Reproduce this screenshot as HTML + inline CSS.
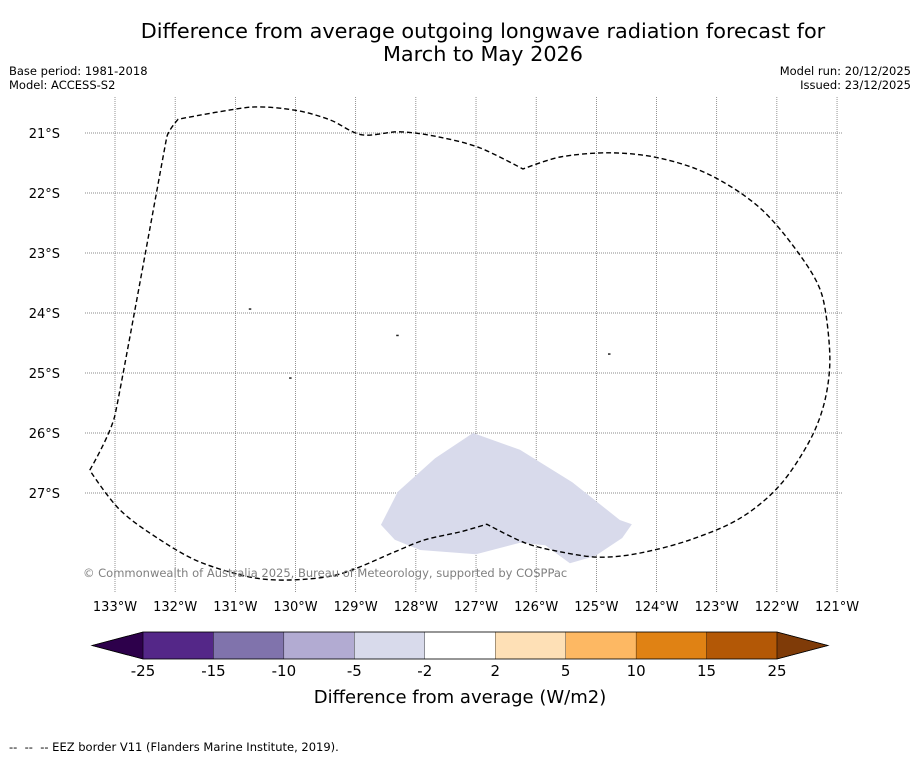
<!DOCTYPE html>
<html><head><meta charset="utf-8">
<style>
body{margin:0;background:#fff;font-family:"Liberation Sans","DejaVu Sans",sans-serif;}
svg text{font-family:"DejaVu Sans","Liberation Sans",sans-serif;}
</style></head>
<body>
<svg id="chart" width="919" height="758" viewBox="0 0 919 758" xmlns="http://www.w3.org/2000/svg">
<rect width="919" height="758" fill="#fff"/>
<text x="483" y="38" font-size="20.8" text-anchor="middle">Difference from average outgoing longwave radiation forecast for</text>
<text x="483" y="61" font-size="20.8" text-anchor="middle">March to May 2026</text>
<text x="9" y="75" font-size="11.5">Base period: 1981-2018</text>
<text x="9" y="89" font-size="11.5">Model: ACCESS-S2</text>
<text x="911" y="75" font-size="11.5" text-anchor="end">Model run: 20/12/2025</text>
<text x="911" y="89" font-size="11.5" text-anchor="end">Issued: 23/12/2025</text>
<g id="grid"></g>
<g id="marks"></g>
<text x="83" y="577" font-size="11.5" fill="#808080">© Commonwealth of Australia 2025, Bureau of Meteorology, supported by COSPPac</text>
<g id="cbar"></g>
<text x="460" y="703" font-size="18" text-anchor="middle">Difference from average (W/m2)</text>
<text x="9" y="751" font-size="11.5" style="white-space:pre">--  --  -- EEZ border V11 (Flanders Marine Institute, 2019).</text>
</svg>
<script>
const lonTicks=[-133,-132,-131,-130,-129,-128,-127,-126,-125,-124,-123,-122,-121];
const latTicks=[-21,-22,-23,-24,-25,-26,-27];
const eezLon=[-133.42,-133,-132.14,-131.95,-130.76,-130.01,-129.43,-128.90,-128.26,-127.60,-126.93,-126.22,-125.60,-124.77,-123.94,-123.11,-122.28,-121.62,-121.25,-121.12,-121.20,-121.45,-121.95,-122.61,-123.44,-124.27,-124.94,-125.60,-126.19,-126.82,-127.27,-127.85,-128.35,-129.26,-130.09,-130.76,-131.59,-132.25,-132.92,-133.42];
const eezLat=[-26.62,-25.70,-21.07,-20.77,-20.57,-20.62,-20.78,-21.03,-20.98,-21.07,-21.25,-21.60,-21.40,-21.33,-21.42,-21.70,-22.25,-23.03,-23.70,-24.70,-25.45,-26.12,-26.87,-27.42,-27.78,-28.00,-28.07,-27.98,-27.83,-27.52,-27.65,-27.78,-27.98,-28.35,-28.45,-28.40,-28.15,-27.78,-27.28,-26.62];
const patchLon=[-128.58,-128.30,-127.68,-127.05,-126.27,-125.40,-124.61,-124.41,-124.57,-125.02,-125.44,-125.85,-126.27,-127.00,-127.93,-128.35];
const patchLat=[-27.53,-26.98,-26.42,-26.00,-26.28,-26.82,-27.45,-27.52,-27.75,-28.05,-28.17,-27.87,-27.83,-28.02,-27.95,-27.78];
const islandLon=[-130.76,-130.09,-128.31,-124.79];
const islandLat=[-23.93,-25.08,-24.37,-24.68];
const cbLevels=[-25,-15,-10,-5,-2,2,5,10,15,25];
const cbColors=["#542788","#8073ac","#b2abd2","#d8daeb","#ffffff","#fee0b6","#fdb863","#e08214","#b35806"];
const cbUnder="#2d004b", cbOver="#7f3b08";

const NS="http://www.w3.org/2000/svg";
const X=lon=>115+(lon+133)*60.17;
const Y=lat=>133+(-21-lat)*60;
function mk(tag,attrs,parent){const e=document.createElementNS(NS,tag);for(const k in attrs)e.setAttribute(k,attrs[k]);parent.appendChild(e);return e;}
function tangent(pts,i){
  if(i===0||i===pts.length-1)return [0,0];
  const a=pts[i-1],b=pts[i],c=pts[i+1];
  const v1=[b[0]-a[0],b[1]-a[1]],v2=[c[0]-b[0],c[1]-b[1]];
  const l1=Math.hypot(...v1),l2=Math.hypot(...v2);
  const cos=(v1[0]*v2[0]+v1[1]*v2[1])/(l1*l2);
  if(cos<0.8)return [0,0];
  const s=Math.min(1,2*Math.min(l1,l2)/(l1+l2));
  return [(c[0]-a[0])/6*s,(c[1]-a[1])/6*s];
}
function smooth(pts){
  let d='M'+pts[0][0]+','+pts[0][1];
  for(let i=0;i<pts.length-1;i++){
    const t1=tangent(pts,i),t2=tangent(pts,i+1),p1=pts[i],p2=pts[i+1];
    d+=` C${p1[0]+t1[0]},${p1[1]+t1[1]} ${p2[0]-t2[0]},${p2[1]-t2[1]} ${p2[0]},${p2[1]}`;
  }
  return d;
}
const grid=document.getElementById('grid'), marks=document.getElementById('marks'), cbar=document.getElementById('cbar');
lonTicks.forEach(l=>{
  const ln=mk('line',{x1:X(l),x2:X(l),y1:97,y2:592,stroke:'#666','stroke-width':0.7,'stroke-dasharray':'1,1'},grid);
  
  
  const t=mk('text',{x:X(l),y:611,'font-size':13,'text-anchor':'middle'},grid);
  t.textContent=Math.abs(l)+'°W';
  
  
});
latTicks.forEach(l=>{
  const ln=mk('line',{x1:85,x2:843,y1:Y(l),y2:Y(l),stroke:'#666','stroke-width':0.7,'stroke-dasharray':'1,1'},grid);
  
  
  const t=mk('text',{x:60,y:Y(l)+5,'font-size':13,'text-anchor':'end'},grid);
  t.textContent=Math.abs(l)+'°S';
  
  
});
const pp=mk('polygon',{points:patchLon.map((l,i)=>X(l)+','+Y(patchLat[i])).join(' '),fill:'#d8daeb'},marks);


islandLon.forEach((l,i)=>{
  const r=mk('rect',{x:X(l)-1,y:Y(islandLat[i])-0.5,width:2.5,height:1.5,fill:'#222'},marks);
  
  
});
const ez=mk('path',{d:smooth(eezLon.map((l,i)=>[X(l),Y(eezLat[i])])),fill:'none',stroke:'#000','stroke-width':1.4,'stroke-dasharray':'5,3'},marks);


const x0=143,x1=777,w=(x1-x0)/cbColors.length,y0=632,h=27;
cbColors.forEach((c,i)=>{
  const r=mk('rect',{x:x0+i*w,y:y0,width:w,height:h,fill:c,stroke:'#000','stroke-width':0.3},cbar);
  
  
});
const u=mk('polygon',{points:`${x0},${y0} ${x0},${y0+h} 92,${y0+h/2}`,fill:cbUnder,stroke:'#000','stroke-width':0.5},cbar);


const o=mk('polygon',{points:`${x1},${y0} ${x1},${y0+h} 828,${y0+h/2}`,fill:cbOver,stroke:'#000','stroke-width':0.5},cbar);


const fr=mk('polygon',{points:`92,${y0+h/2} ${x0},${y0} ${x1},${y0} 828,${y0+h/2} ${x1},${y0+h} ${x0},${y0+h}`,fill:'none',stroke:'#000','stroke-width':0.8},cbar);


cbLevels.forEach((v,i)=>{
  const t=mk('text',{x:x0+i*w,y:676,'font-size':15,'text-anchor':'middle'},cbar);
  t.textContent=v;
  
  
});
</script>
</body></html>
